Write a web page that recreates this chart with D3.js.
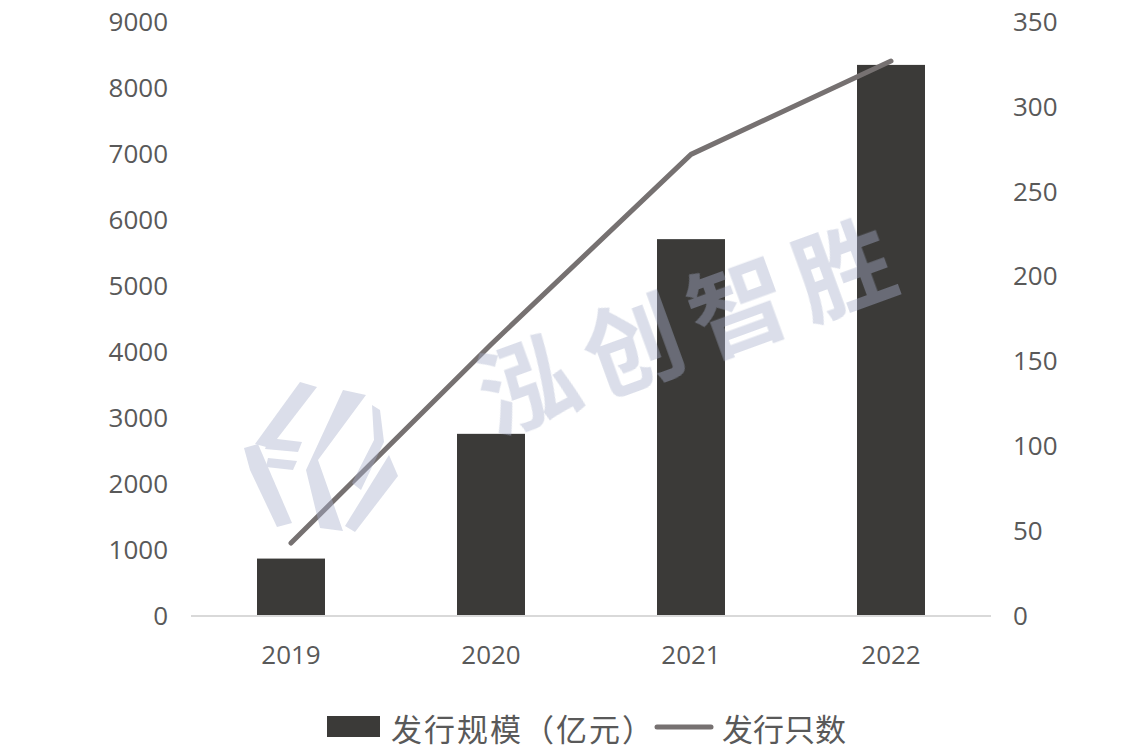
<!DOCTYPE html>
<html><head><meta charset="utf-8">
<script src="https://cdn.jsdelivr.net/npm/d3@7/dist/d3.min.js"></script>
<style>
html,body{margin:0;padding:0;background:#fff;}
svg text{font-family:"Noto Sans CJK SC","Open Sans",sans-serif;}
</style></head>
<body><svg id="c" width="1148" height="750"></svg>
<script>
const years = ["2019","2020","2021","2022"];
const scaleValues = [870, 2760, 5710, 8350];   // 发行规模（亿元）
const countValues = [43, 160, 272, 327];        // 发行只数
const leftTicks = [0,1000,2000,3000,4000,5000,6000,7000,8000,9000];
const rightTicks = [0,50,100,150,200,250,300,350];
const seriesNames = ["发行规模（亿元）","发行只数"];

const svg = d3.select("#c");
const W = 1148, H = 750;
const m = {left:191, right:157, top:22, bottom:134};
const x = d3.scaleBand().domain(years).range([m.left, W - m.right]).paddingInner(0.66).paddingOuter(0.33);
const yL = d3.scaleLinear().domain([0,9000]).range([H - m.bottom, m.top]);
const yR = d3.scaleLinear().domain([0,350]).range([H - m.bottom, m.top]);
const textColor = "#595959";
const numFont = "'Open Sans',sans-serif";

// bars
svg.append("g").selectAll("rect").data(years).join("rect")
  .attr("x", d => x(d))
  .attr("width", x.bandwidth())
  .attr("y", (d,i) => yL(scaleValues[i]))
  .attr("height", (d,i) => yL(0) - yL(scaleValues[i]))
  .attr("fill", "#3b3a38");

// baseline
svg.append("line").attr("x1", m.left).attr("x2", W - m.right)
  .attr("y1", yL(0)).attr("y2", yL(0))
  .attr("stroke", "#d9d9d9").attr("stroke-width", 2);

// line
const line = d3.line().x((d,i) => x(years[i]) + x.bandwidth()/2).y(d => yR(d));
svg.append("path").datum(countValues).attr("d", line)
  .attr("fill","none").attr("stroke","#767171").attr("stroke-width",5)
  .attr("stroke-linecap","round").attr("stroke-linejoin","round");

// left axis
const axL = d3.axisLeft(yL).tickValues(leftTicks).tickSize(0).tickPadding(23).tickFormat(d3.format("d"));
const gL = svg.append("g").attr("transform", `translate(${m.left},0)`).call(axL);
gL.select(".domain").remove();
gL.selectAll("text").attr("fill", textColor).style("font-size","26px").style("font-family",numFont);

// right axis
const axR = d3.axisRight(yR).tickValues(rightTicks).tickSize(0).tickPadding(22).tickFormat(d3.format("d"));
const gR = svg.append("g").attr("transform", `translate(${W - m.right},0)`).call(axR);
gR.select(".domain").remove();
gR.selectAll("text").attr("fill", textColor).style("font-size","26px").style("font-family",numFont);

// bottom axis
const axB = d3.axisBottom(x).tickSize(0).tickPadding(30);
const gB = svg.append("g").attr("transform", `translate(0,${yL(0)})`).call(axB);
gB.select(".domain").remove();
gB.selectAll("text").attr("fill", textColor).style("font-size","26px").style("font-family",numFont);

// watermark
const wm = svg.append("g").attr("fill", "#a9b1cc").attr("opacity", 0.42);
wm.append("text").attr("transform","translate(690,318) rotate(-20)")
  .attr("text-anchor","middle").attr("dominant-baseline","central")
  .style("font-size","98px").style("font-weight","bold").style("letter-spacing","14px")
  .text("泓创智胜");
const logo = [
  [[300,382],[317,387],[270,448],[255,444]],
  [[244,448],[258,444],[292,523],[277,527],[250,470]],
  [[269,438],[302,442],[298,452],[265,449]],
  [[268,458],[297,461],[293,470],[266,467]],
  [[343,390],[366,395],[318,460],[343,531],[320,528],[306,470]],
  [[372,405],[380,410],[384,442],[361,490],[352,483],[374,440]],
  [[389,455],[398,476],[355,532],[345,526]]
];
wm.selectAll("polygon.logo").data(logo).join("polygon").attr("class","logo")
  .attr("points", d => d.map(p => p.join(",")).join(" "));

// legend
const lg = svg.append("g");
lg.append("rect").attr("x",327).attr("y",716).attr("width",53).attr("height",21).attr("fill","#3b3a38");
lg.append("text").attr("x",391).attr("y",727).attr("dominant-baseline","central")
  .attr("fill",textColor).style("font-size","31px").style("letter-spacing","2px").text(seriesNames[0]);
lg.append("line").attr("x1",657).attr("x2",711).attr("y1",727).attr("y2",727)
  .attr("stroke","#767171").attr("stroke-width",5).attr("stroke-linecap","round");
lg.append("text").attr("x",722).attr("y",727).attr("dominant-baseline","central")
  .attr("fill",textColor).style("font-size","31px").text(seriesNames[1]);
</script></body></html>
